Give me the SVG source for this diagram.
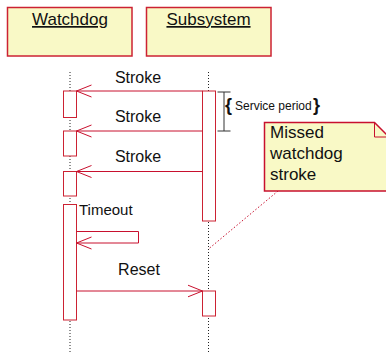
<svg xmlns="http://www.w3.org/2000/svg" width="386" height="359" viewBox="0 0 386 359">
<style>
text{font-family:"Liberation Sans",Arial,sans-serif;fill:#111}
.hdr{fill:#f9f9c6;stroke:#cc2233;stroke-width:1.5}
.act{fill:#fff;stroke:#cc2233;stroke-width:1}
.msg{fill:none;stroke:#c8102e;stroke-width:1}
.life{stroke:#222;stroke-width:1;stroke-dasharray:1 2}
.lbl{font-size:16px;text-anchor:middle}
.title{font-size:17px;text-anchor:middle;text-decoration:underline}
.brace{font-size:18px;font-weight:bold}
</style>
<defs>
<marker id="open" markerUnits="userSpaceOnUse" markerWidth="20" markerHeight="16" refX="15" refY="7" orient="auto">
<path d="M0,1 L15,7 L0,13" fill="none" stroke="#c8102e" stroke-width="1"/>
</marker>
</defs>
<g id="watchdog">
<rect class="hdr" x="7.5" y="7.5" width="124.5" height="48.5"/>
<text class="title" x="70" y="25">Watchdog</text>
</g>
<g id="subsystem">
<rect class="hdr" x="146.5" y="7.5" width="124.5" height="48.5"/>
<text class="title" x="208.5" y="25">Subsystem</text>
</g>
<g id="lifelines">
<line class="life" x1="70" y1="72" x2="70" y2="352"/>
<line class="life" x1="208.5" y1="72" x2="208.5" y2="354"/>
</g>
<g id="activations">
<rect class="act" x="63.5" y="91" width="13" height="26.5"/>
<rect class="act" x="63.5" y="131" width="13" height="25"/>
<rect class="act" x="63.5" y="171.5" width="13" height="24.5"/>
<rect class="act" x="63.5" y="204.5" width="13" height="115.5"/>
<rect class="act" x="202.5" y="91" width="13" height="130"/>
<rect class="act" x="202.5" y="291" width="13" height="25"/>
</g>
<g id="connectors">
<line class="msg" x1="202.5" y1="91" x2="76.5" y2="91" marker-end="url(#open)"/>
<line class="msg" x1="202.5" y1="131" x2="76.5" y2="131" marker-end="url(#open)"/>
<line class="msg" x1="202.5" y1="171.5" x2="76.5" y2="171.5" marker-end="url(#open)"/>
<path class="msg" d="M76.5,231.5 H138.5 V243 H76.5" marker-end="url(#open)"/>
<line class="msg" x1="76.5" y1="291" x2="202.5" y2="291" marker-end="url(#open)"/>
<line x1="278" y1="191" x2="208.5" y2="249" stroke="#c8102e" stroke-width="1" stroke-dasharray="1.5 2"/>
</g>
<g id="labels">
<text class="lbl" x="138" y="83">Stroke</text>
<text class="lbl" x="138" y="122">Stroke</text>
<text class="lbl" x="138" y="162">Stroke</text>
<text x="79" y="215" font-size="15">Timeout</text>
<text class="lbl" x="139" y="275">Reset</text>
</g>
<g id="service-period">
<path d="M224,92 V131 M217.5,92 H230.5 M217.5,131 H230.5" stroke="#333" stroke-width="1" fill="none"/>
<text class="brace" x="225" y="111">{</text>
<text x="235" y="110" font-size="12">Service period</text>
<text class="brace" x="313" y="111">}</text>
</g>
<g id="note">
<path d="M264.5,122.5 H374.5 L389,137 V191 H264.5 Z" fill="#f9f9c6" stroke="#c8102e" stroke-width="1.5"/>
<path d="M374.5,122.5 V137 H389" fill="none" stroke="#c8102e" stroke-width="1"/>
<text x="270" y="138" font-size="17">Missed</text>
<text x="270" y="159" font-size="17">watchdog</text>
<text x="270" y="180" font-size="17">stroke</text>
</g>
</svg>
